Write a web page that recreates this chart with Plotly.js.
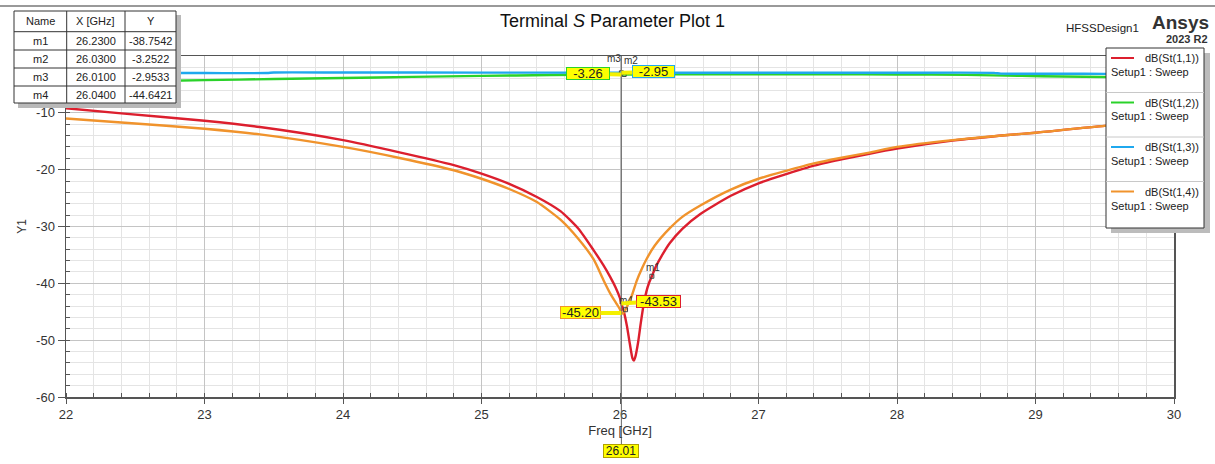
<!DOCTYPE html>
<html>
<head>
<meta charset="utf-8">
<script src="https://cdn.plot.ly/plotly-3.0.1.min.js"></script>
<style>
html,body{margin:0;padding:0;background:#fff;}
#plot{width:1215px;height:464px;}
</style>
</head>
<body>
<div id="plot"></div>
<script>
// ---------------- DATA ----------------
const freqS11 = [22, 22.4, 23, 23.4, 24, 24.4, 24.8, 25, 25.2, 25.4, 25.57, 25.7, 25.81, 25.88, 25.93, 25.97, 26.0, 26.01, 26.03, 26.05, 26.07, 26.09, 26.1, 26.11, 26.13, 26.15, 26.17, 26.19, 26.21, 26.23, 26.26, 26.3, 26.36, 26.45, 26.58, 26.8, 27.0, 27.2, 27.4, 27.6, 27.8, 28.0, 28.4, 28.8, 29.0, 29.5, 30.0];
const dbS11   = [-9.2, -10.1, -11.4, -12.5, -14.8, -16.9, -19.2, -20.7, -22.5, -24.8, -27.3, -30.4, -34.2, -36.8, -38.9, -40.8, -42.6, -43.53, -45.2, -47.5, -50.5, -53.2, -53.6, -53.0, -50.5, -47.0, -43.8, -41.5, -39.9, -38.7542, -37.0, -35.2, -32.9, -30.4, -27.8, -24.6, -22.4, -20.8, -19.3, -18.2, -17.2, -16.3, -14.9, -13.9, -13.5, -12.3, -11.6];

const freqS12 = [22, 22.5, 23, 23.5, 24, 24.5, 25, 25.5, 26.0, 26.01, 26.03, 26.5, 27.0, 27.5, 28.0, 28.5, 28.9, 29.2, 29.5, 30.0];
const dbS12   = [-4.7, -4.45, -4.25, -4.05, -3.87, -3.68, -3.5, -3.35, -3.27, -3.26, -3.2522, -3.22, -3.2, -3.2, -3.25, -3.32, -3.5, -3.62, -3.7, -3.8];

const freqS13 = [22, 23, 23.45, 23.5, 24, 25, 26.0, 26.01, 27.0, 28.0, 28.7, 28.75, 29.2, 29.5, 30.0];
const dbS13   = [-3.0, -3.0, -3.0, -2.9, -2.9, -2.92, -2.95, -2.9533, -2.95, -2.95, -2.97, -3.1, -3.12, -3.15, -3.2];

const freqS14 = [22, 22.4, 23, 23.4, 24, 24.4, 24.8, 25, 25.2, 25.4, 25.57, 25.7, 25.81, 25.88, 25.93, 25.97, 26.0, 26.01, 26.02, 26.03, 26.04, 26.06, 26.085, 26.12, 26.16, 26.19, 26.25, 26.36, 26.45, 26.58, 26.8, 27.0, 27.2, 27.4, 27.6, 27.8, 28.0, 28.4, 28.8, 29.0, 29.5, 30.0];
const dbS14   = [-11.0, -11.7, -12.8, -13.8, -16.0, -17.9, -20.1, -21.6, -23.4, -25.7, -28.8, -32.2, -35.8, -39.4, -41.8, -43.4, -44.6, -45.20, -45.3, -45.0, -44.6421, -43.6, -42.2, -39.6, -37.3, -35.8, -33.4, -30.3, -28.3, -26.3, -23.5, -21.6, -20.2, -18.9, -17.9, -17.0, -16.0, -14.8, -13.9, -13.5, -12.3, -11.6];

const traceNames  = ['dB(St(1,1))', 'dB(St(1,2))', 'dB(St(1,3))', 'dB(St(1,4))'];
const sweepLabel  = 'Setup1 : Sweep';
const traceColors = ['#dc1f2e', '#2ad22a', '#1fa8ee', '#f0932c'];

const markerNames = ['m1', 'm2', 'm3', 'm4'];
const markerX     = [26.23, 26.03, 26.01, 26.04];
const markerY     = [-38.7542, -3.2522, -2.9533, -44.6421];

const lineMarkerX = 26.01;

const xTickVals = [22, 23, 24, 25, 26, 27, 28, 29, 30];
const yTickVals = [-60, -50, -40, -30, -20, -10];

const chartTitle = 'Terminal <i>S</i> Parameter Plot 1';
const designName = 'HFSSDesign1';
const brandName  = 'Ansys';
const brandVer   = '2023 R2';
const tableHead  = ['Name', 'X [GHz]', 'Y'];

// ---------------- LAYOUT HELPERS ----------------
const W = 1215, H = 464;
const ML = 66, MR = 41, MT = 56, MB = 67;
const PW = W - ML - MR, PH = H - MT - MB;
const px = x => (x - ML) / PW;
const py = y => (MT + PH - y) / PH;
const FONT = 'Arial, "Liberation Sans", sans-serif';

const series = [[freqS11, dbS11], [freqS12, dbS12], [freqS13, dbS13], [freqS14, dbS14]];

const traces = series.map((s, i) => ({
  type: 'scatter', mode: 'lines', x: s[0], y: s[1], name: traceNames[i],
  line: {color: traceColors[i], width: 2.4, shape: 'spline', smoothing: 0.6},
  hoverinfo: 'x+y+name', showlegend: false
}));

traces.push({
  type: 'scatter', mode: 'markers', x: markerX, y: markerY, name: 'markers',
  marker: {symbol: 'square-open', size: 4, color: '#444', line: {width: 1, color: '#444'}},
  showlegend: false, hoverinfo: 'skip'
});

const shapes = [];
const annotations = [];

// marker name labels
const markerShift = [[1, 9], [7, 14], [-7, 14], [0, 9]];
markerNames.forEach((n, i) => {
  annotations.push({
    xref: 'x', yref: 'y', x: markerX[i], y: markerY[i], text: n, showarrow: false,
    xshift: markerShift[i][0], yshift: markerShift[i][1], xanchor: 'center', yanchor: 'middle',
    font: {family: FONT, size: 10, color: '#333'}
  });
});

// top frame line
shapes.push({type: 'line', xref: 'paper', yref: 'paper', x0: px(0), x1: px(W), y0: py(6), y1: py(6), line: {color: '#777', width: 1.5}, layer: 'above'});

// marker line at lineMarkerX
shapes.push({type: 'line', xref: 'x', yref: 'paper', x0: lineMarkerX, x1: lineMarkerX, y0: py(444), y1: 1, line: {color: '#666', width: 1}, layer: 'above'});

// values at marker line from series
const valueBoxes = [
  {i: 0, ax: 37, ay: -2, w: 45},
  {i: 1, ax: -33, ay: -1, w: 44},
  {i: 2, ax: 32, ay: -1, w: 43},
  {i: 3, ax: -41, ay: 0, w: 41}
];
valueBoxes.forEach(v => {
  const xs = series[v.i][0], ys = series[v.i][1];
  const k = xs.indexOf(lineMarkerX);
  annotations.push({
    xref: 'x', yref: 'y', x: lineMarkerX, y: ys[k], ax: v.ax, ay: v.ay,
    text: ys[k].toFixed(2), showarrow: true, arrowhead: 0, arrowwidth: 4, arrowcolor: '#f4f000', standoff: 0,
    bgcolor: '#ffff00', bordercolor: traceColors[v.i], borderwidth: 1, borderpad: 0,
    width: v.w - 2, height: 11,
    font: {family: FONT, size: 13, color: '#222'}
  });
});

// x label box at bottom
annotations.push({
  xref: 'x', yref: 'paper', x: lineMarkerX, y: py(451), text: lineMarkerX.toFixed(2), showarrow: false,
  xanchor: 'center', yanchor: 'middle', width: 34, height: 12,
  bgcolor: '#ffff00', bordercolor: '#b0a000', borderwidth: 1, borderpad: 0,
  font: {family: FONT, size: 12, color: '#222'}
});

// ---------------- MARKER TABLE ----------------
const tL = 14, tR = 176, tT = 11, tB = 103;
const colX = [tL, 66.7, 125, tR];
const rowY = [tT, 31.7, 50, 68, 86, tB];
shapes.push({type: 'rect', xref: 'paper', yref: 'paper', x0: px(tL + 4), x1: px(tR + 5), y0: py(tT + 4), y1: py(tB + 5), fillcolor: '#b9b9b9', line: {width: 0}, layer: 'above'});
shapes.push({type: 'rect', xref: 'paper', yref: 'paper', x0: px(tL), x1: px(tR), y0: py(tT), y1: py(tB), fillcolor: '#ffffff', line: {color: '#333', width: 1}, layer: 'above'});
for (let c = 1; c < 3; c++) shapes.push({type: 'line', xref: 'paper', yref: 'paper', x0: px(colX[c]), x1: px(colX[c]), y0: py(tT), y1: py(tB), line: {color: '#333', width: 1}, layer: 'above'});
for (let r = 1; r < 5; r++) shapes.push({type: 'line', xref: 'paper', yref: 'paper', x0: px(tL), x1: px(tR), y0: py(rowY[r]), y1: py(rowY[r]), line: {color: '#333', width: 1}, layer: 'above'});
const tableRows = [tableHead].concat(markerNames.map((n, i) => [n, markerX[i].toFixed(4), markerY[i].toFixed(4)]));
tableRows.forEach((row, r) => {
  row.forEach((cell, c) => {
    annotations.push({
      xref: 'paper', yref: 'paper', x: px((colX[c] + colX[c + 1]) / 2), y: py((rowY[r] + rowY[r + 1]) / 2),
      text: cell, showarrow: false, xanchor: 'center', yanchor: 'middle',
      font: {family: FONT, size: 11, color: '#222'}
    });
  });
});

// ---------------- CUSTOM LEGEND ----------------
const gL = 1106, gR = 1204, gT = 48, gB = 228, gStep = 44.5;
shapes.push({type: 'rect', xref: 'paper', yref: 'paper', x0: px(gL + 5), x1: px(gR + 6), y0: py(gT + 5), y1: py(gB + 5), fillcolor: '#bcbcbc', line: {width: 0}, layer: 'above'});
shapes.push({type: 'rect', xref: 'paper', yref: 'paper', x0: px(gL), x1: px(gR), y0: py(gT), y1: py(gB), fillcolor: '#ffffff', line: {color: '#333', width: 1}, layer: 'above'});
for (let i = 1; i < 4; i++) shapes.push({type: 'line', xref: 'paper', yref: 'paper', x0: px(gL), x1: px(gR), y0: py(gT + gStep * i), y1: py(gT + gStep * i), line: {color: '#c8c8c8', width: 1}, layer: 'above'});
traceNames.forEach((n, i) => {
  const yl = gT + 10 + gStep * i;
  shapes.push({type: 'line', xref: 'paper', yref: 'paper', x0: px(gL + 5), x1: px(gL + 28), y0: py(yl), y1: py(yl), line: {color: traceColors[i], width: 2}, layer: 'above'});
  annotations.push({xref: 'paper', yref: 'paper', x: px(gR - 3), y: py(yl), text: n, showarrow: false, xanchor: 'right', yanchor: 'middle', font: {family: FONT, size: 11, color: '#222'}});
  annotations.push({xref: 'paper', yref: 'paper', x: px(gL + 3), y: py(yl + 14), text: sweepLabel, showarrow: false, xanchor: 'left', yanchor: 'middle', font: {family: FONT, size: 11, color: '#222'}});
});

// ---------------- HEADER TEXTS ----------------
annotations.push({xref: 'paper', yref: 'paper', x: px(612), y: py(21), text: chartTitle, showarrow: false, xanchor: 'center', yanchor: 'middle', font: {family: FONT, size: 18, color: '#111'}});
annotations.push({xref: 'paper', yref: 'paper', x: px(1141), y: py(28), text: designName, showarrow: false, xanchor: 'right', yanchor: 'middle', font: {family: FONT, size: 11.5, color: '#222'}});
annotations.push({xref: 'paper', yref: 'paper', x: px(1211), y: py(22), text: '<b>' + brandName + '</b>', showarrow: false, xanchor: 'right', yanchor: 'middle', font: {family: FONT, size: 19, color: '#333'}});
annotations.push({xref: 'paper', yref: 'paper', x: px(1210), y: py(39), text: '<b>' + brandVer + '</b>', showarrow: false, xanchor: 'right', yanchor: 'middle', font: {family: FONT, size: 11, color: '#333'}});

const layout = {
  width: W, height: H,
  margin: {l: ML, r: MR, t: MT, b: MB, pad: 0},
  paper_bgcolor: '#ffffff', plot_bgcolor: '#ffffff',
  showlegend: false,
  font: {family: FONT, size: 13, color: '#333'},
  xaxis: {
    range: [22, 30], tickvals: xTickVals, ticktext: xTickVals.map(String),
    showgrid: true, gridcolor: '#c4c4c4', gridwidth: 1,
    minor: {dtick: 0.2, showgrid: true, gridcolor: '#e4e4e4', gridwidth: 1, ticks: 'inside', ticklen: 4, tickcolor: '#555'},
    showline: true, linecolor: '#555', linewidth: 1.5, mirror: true,
    ticks: 'outside', ticklen: 5, tickcolor: '#555', zeroline: false,
    tickfont: {family: FONT, size: 13, color: '#333'},
    title: {text: 'Freq [GHz]', standoff: 5, font: {family: FONT, size: 13, color: '#333'}},
    automargin: false
  },
  yaxis: {
    range: [-60, 0], tickvals: yTickVals, ticktext: yTickVals.map(String),
    showgrid: true, gridcolor: '#c4c4c4', gridwidth: 1,
    minor: {dtick: 2, showgrid: true, gridcolor: '#e4e4e4', gridwidth: 1, ticks: 'inside', ticklen: 4, tickcolor: '#555'},
    showline: true, linecolor: '#555', linewidth: 1.5, mirror: true,
    ticks: 'outside', ticklen: 7, tickcolor: '#555', zeroline: false,
    tickfont: {family: FONT, size: 13, color: '#333'},
    title: {text: 'Y1', standoff: 7, font: {family: FONT, size: 12, color: '#333'}},
    automargin: false
  },
  shapes: shapes,
  annotations: annotations
};

Plotly.newPlot('plot', traces, layout, {displayModeBar: false, staticPlot: true});
</script>
</body>
</html>
